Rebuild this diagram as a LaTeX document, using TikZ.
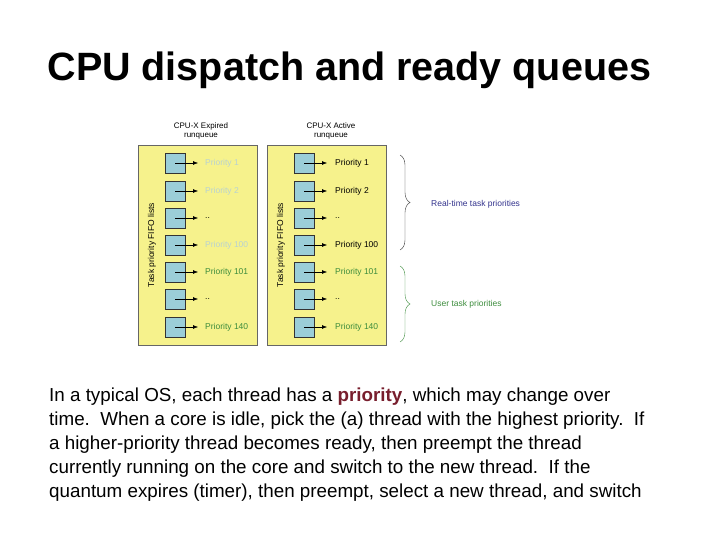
\documentclass[tikz,border=0pt]{standalone}
\usepackage{fontspec}
\setmainfont{Liberation Sans}
\usetikzlibrary{arrows.meta,decorations.pathreplacing}
\definecolor{Panel}{RGB}{246,242,140}
\definecolor{Slot}{RGB}{155,206,216}
\definecolor{Faded}{RGB}{184,210,210}
\definecolor{Usr}{RGB}{60,140,60}
\definecolor{Rt}{RGB}{50,50,140}
\definecolor{Prio}{RGB}{120,30,45}
\tikzset{
  panel/.style={draw=black!60, fill=Panel, minimum width=119pt, minimum height=200pt, inner sep=0pt},
  slot/.style={draw=black!80, thick, fill=Slot, minimum size=20pt, inner sep=0pt},
  lbl/.style={font=\fontsize{8.5}{9}\selectfont, anchor=west, inner sep=0pt},
  hdr/.style={font=\fontsize{8}{9.5}\selectfont, align=center},
}
\begin{document}
\begin{tikzpicture}[x=1pt,y=-1pt]
  \useasboundingbox (0,0) rectangle (720,540);
  \node[anchor=west, font=\fontsize{39.5}{44}\selectfont\bfseries] (title) at (44,70) {CPU dispatch and ready queues};
  % the two runqueues
  \node[panel, anchor=north west] (exp) at (138,145) {};
  \node[panel, anchor=north west] (act) at (267,145) {};
  \node[hdr] (exph) at (201,131) {CPU-X Expired\\runqueue};
  \node[hdr] (acth) at (331,131) {CPU-X Active\\runqueue};
  \node[rotate=90, font=\fontsize{8.5}{9}\selectfont] (expv) at (152,245) {Task priority FIFO lists};
  \node[rotate=90, font=\fontsize{8.5}{9}\selectfont] (actv) at (281,245) {Task priority FIFO lists};
  % slots
  \foreach \i/\y/\t/\ce/\ca in {1/163/Priority 1/Faded/black,
                                 2/191/Priority 2/Faded/black,
                                 3/218/../black/black,
                                 4/245/Priority 100/Faded/black,
                                 5/272/Priority 101/Usr/Usr,
                                 6/299/../black/black,
                                 7/327/Priority 140/Usr/Usr} {
    \node[slot] (es\i) at (175,\y) {};
    \node[lbl, text=\ce] (et\i) at (205,\y) {\t};
    \draw[-{Latex[length=5pt]}, shorten >=7pt] (es\i.center) -- (et\i.west);
    \node[slot] (as\i) at (304,\y) {};
    \node[lbl, text=\ca] (at\i) at (335,\y) {\t};
    \draw[-{Latex[length=5pt]}, shorten >=8pt] (as\i.center) -- (at\i.west);
  }
  % braces
  \coordinate (rt1) at (400,155);
  \coordinate (rt2) at (400,250);
  \coordinate (us1) at (400,266);
  \coordinate (us2) at (400,342);
  \draw[black!80, decorate, decoration={brace, amplitude=10pt}] (rt1) -- (rt2);
  \draw[Usr, decorate, decoration={brace, amplitude=10pt}] (us1) -- (us2);
  \node[lbl, text=Rt] (rtl) at (431,204) {Real-time task priorities};
  \node[lbl, text=Usr] (usl) at (431,304) {User task priorities};
  % description
  \node[anchor=north west, align=left, inner sep=0pt, font=\fontsize{18.8}{24}\selectfont] (body) at (49,388)
    {In a typical OS, each thread has a \textcolor{Prio}{\textbf{priority}}, which may change over\\
     time.\ \ When a core is idle, pick the (a) thread with the highest priority.\ \ If\\
     a higher-priority thread becomes ready, then preempt the thread\\
     currently running on the core and switch to the new thread.\ \ If the\\
     quantum expires (timer), then preempt, select a new thread, and switch};
\end{tikzpicture}
\end{document}
